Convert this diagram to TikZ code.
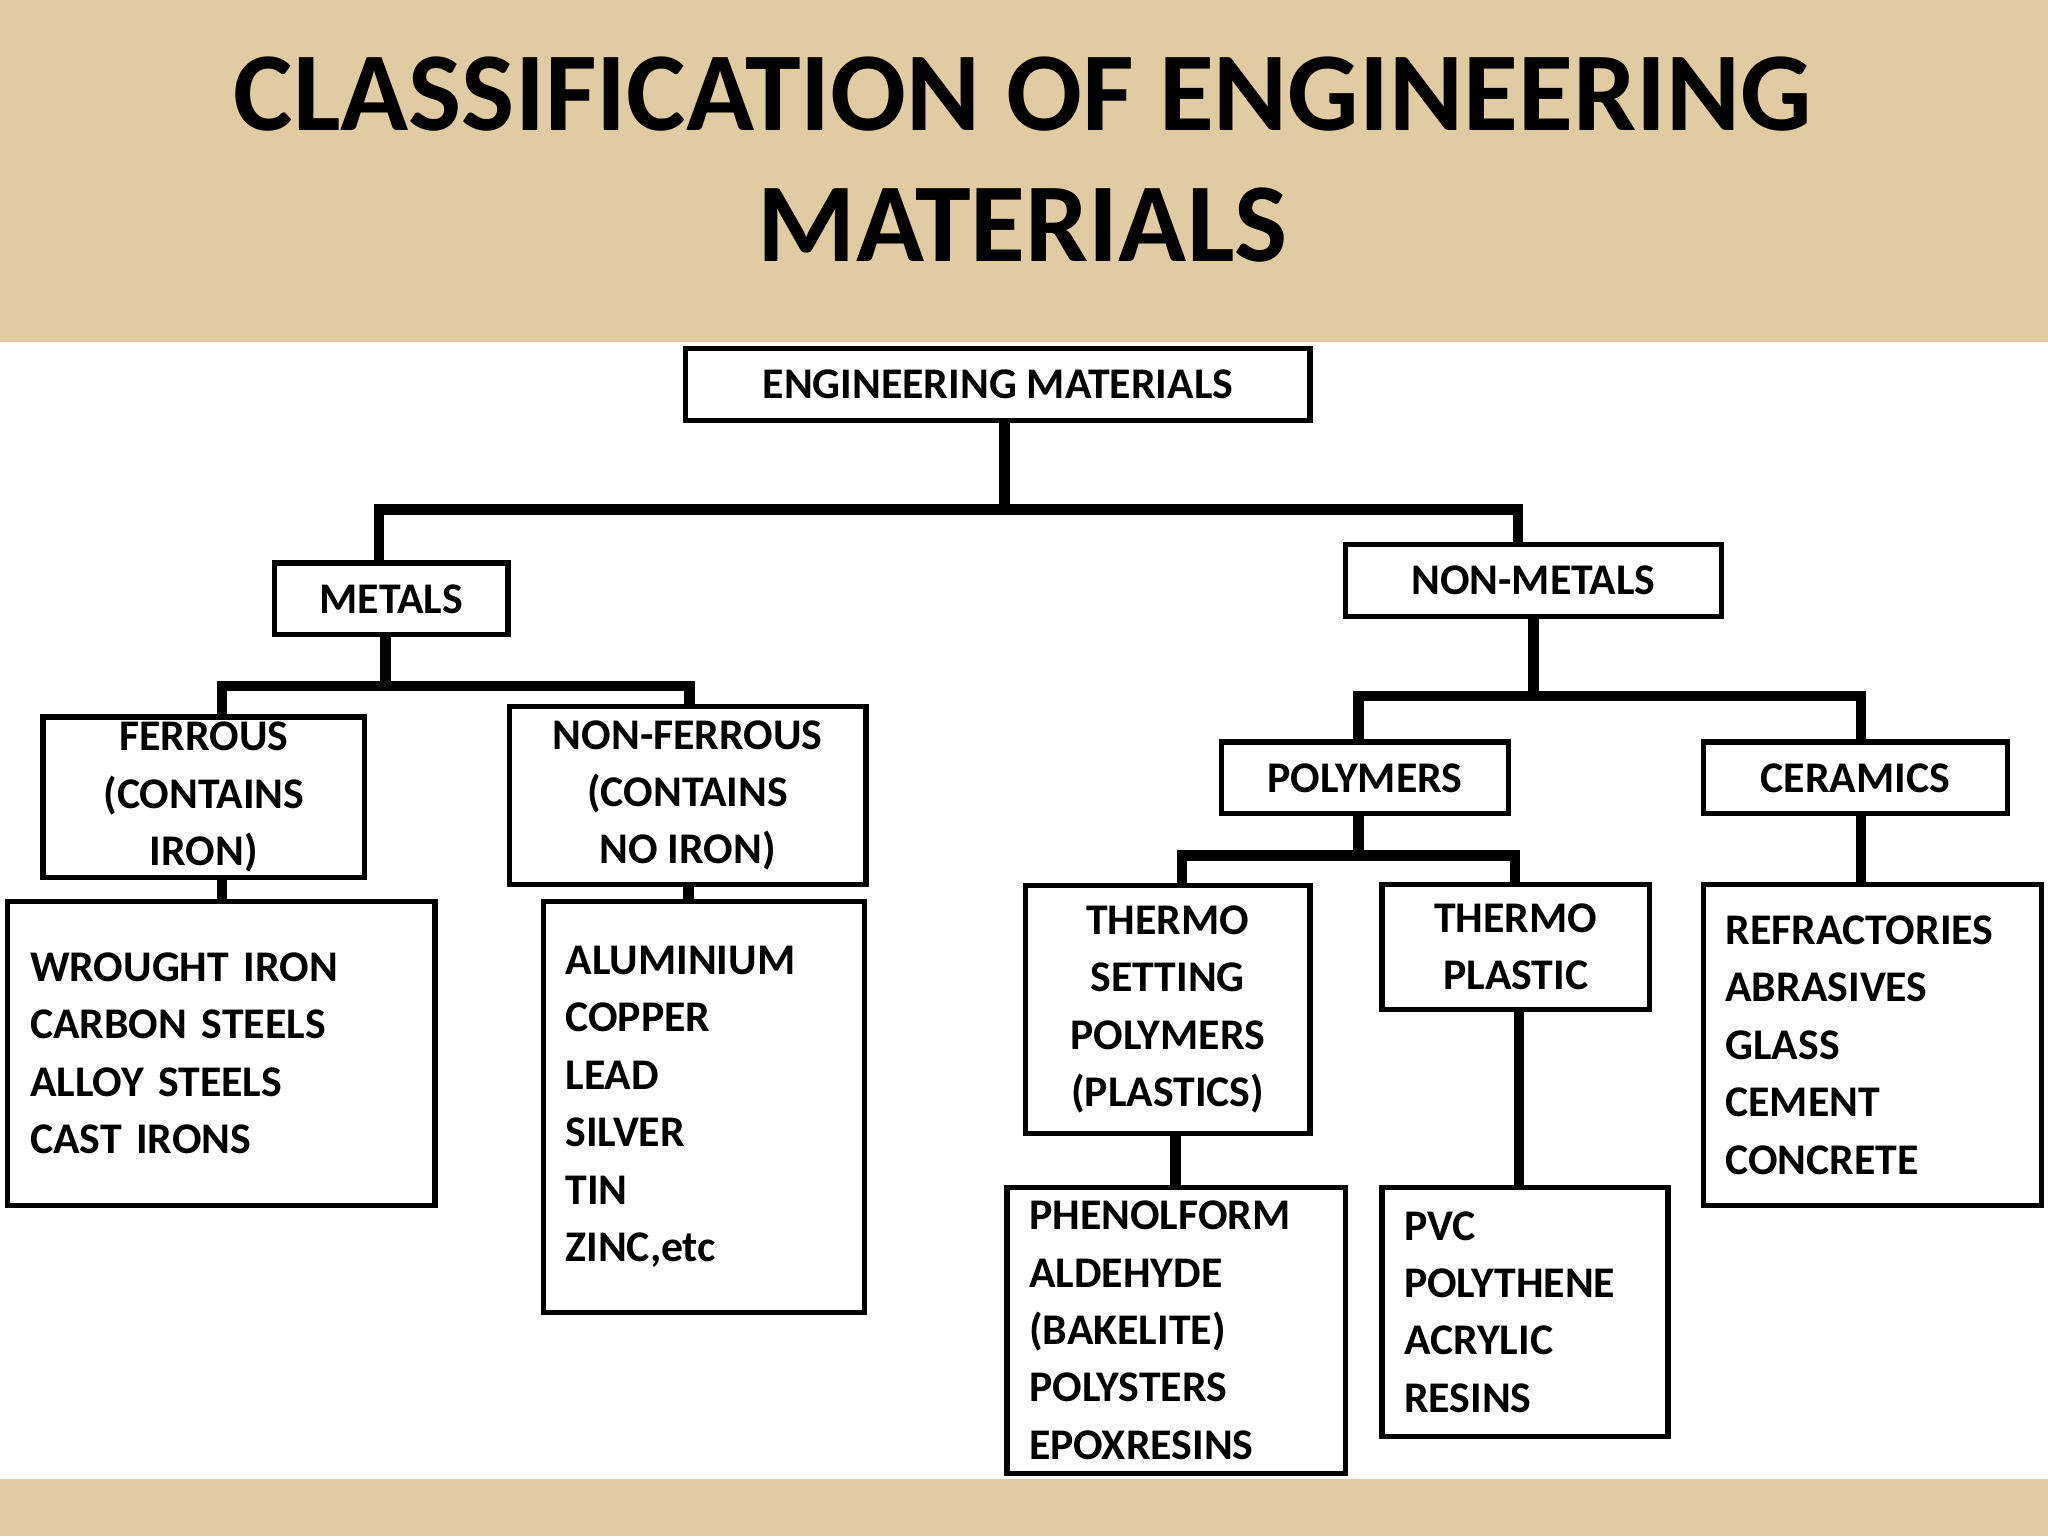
\documentclass[tikz,border=0pt]{standalone}
\usepackage{fontspec}
\setmainfont{Carlito}
\definecolor{bg}{RGB}{224,203,162}
\tikzset{
  box/.style={draw=black,line width=4pt,fill=white,inner sep=0pt,font=\fontsize{33.5}{44}\selectfont\bfseries},
  lst/.style={align=left,inner xsep=17pt},
  con/.style={draw=black,line width=8pt,line cap=butt,line join=miter}
}
\newcommand\bx[7]{\node[box,minimum width={#4-#2},minimum height={#5-#3},#7] (#1) at ({(#2+#4)/2},{(#3+#5)/2}) {#6};}
\newcommand\lx[7]{\node[box,lst,minimum width={#4-#2},minimum height={#5-#3},text width={#4-#2-34},#7] (#1) at ({(#2+#4)/2},{(#3+#5)/2}) {#6};}
\begin{document}
\begin{tikzpicture}[x=1pt,y=-1pt]
\fill[bg] (0,0) rectangle (1568,1176);
\fill[white] (0,262) rectangle (1568,1132);
\useasboundingbox (0,0) rectangle (1568,1176);
\node[font=\fontsize{86}{100}\selectfont\bfseries,align=center] (title) at (783,122) {CLASSIFICATION OF ENGINEERING\\MATERIALS};
% connectors
\coordinate (c1) at (769,322);
\coordinate (j1) at (769,390);
\coordinate (c2) at (295,486);
\coordinate (j2) at (295,525);
\coordinate (c3) at (1174,472);
\coordinate (j3) at (1174,533);
\coordinate (c4) at (1040,623);
\coordinate (j4) at (1040,655);
\coordinate (mt) at (290,431);
\coordinate (nt) at (1162,417);
\coordinate (ft) at (170,549);
\coordinate (nft) at (528,541);
\coordinate (pt) at (1040,568);
\coordinate (cet) at (1425,568);
\coordinate (tst) at (905,678);
\coordinate (tpt) at (1160,677);
\path[con] (c1) -- (j1) -| (mt);
\path[con] (j1) -| (nt);
\path[con] (c2) -- (j2) -| (ft);
\path[con] (j2) -| (nft);
\path[con] (c3) -- (j3) -| (pt);
\path[con] (j3) -| (cet);
\path[con] (c4) -- (j4) -| (tst);
\path[con] (j4) -| (tpt);
\path[con] (170,672) -- (170,690);
\path[con] (527,677) -- (527,690);
\path[con] (900,868) -- (900,909);
\path[con] (1163,773) -- (1163,909);
\path[con] (1425,623) -- (1425,677);
% boxes
\bx{em}{525}{267}{1003}{322}{ENGINEERING MATERIALS}{}
\bx{metals}{210}{431}{389}{486}{METALS}{}
\bx{nonmetals}{1030}{417}{1318}{472}{NON-METALS}{}
\bx{ferrous}{33}{549}{279}{672}{FERROUS\\(CONTAINS\\IRON)}{align=center}
\bx{nonferrous}{390}{541}{663}{677}{NON-FERROUS\\(CONTAINS\\NO IRON)}{align=center}
\bx{polymers}{935}{568}{1155}{623}{POLYMERS}{}
\bx{ceramics}{1304}{568}{1537}{623}{CERAMICS}{}
\bx{thermoset}{785}{678}{1003}{868}{THERMO\\SETTING\\POLYMERS\\(PLASTICS)}{align=center}
\bx{thermoplastic}{1058}{677}{1263}{773}{THERMO\\PLASTIC}{align=center}
\lx{wrought}{6}{690}{333}{923}{WROUGHT IRON\\CARBON STEELS\\ALLOY STEELS\\CAST IRONS}{}
\lx{alu}{416}{690}{662}{1005}{ALUMINIUM\\COPPER\\LEAD\\SILVER\\TIN\\ZINC,etc}{}
\lx{phenol}{771}{909}{1030}{1128}{PHENOLFORM\\ALDEHYDE\\(BAKELITE)\\POLYSTERS\\EPOXRESINS}{}
\lx{pvc}{1058}{909}{1277}{1100}{PVC\\POLYTHENE\\ACRYLIC\\RESINS}{}
\lx{refr}{1304}{677}{1563}{923}{REFRACTORIES\\ABRASIVES\\GLASS\\CEMENT\\CONCRETE}{}
\end{tikzpicture}
\end{document}
